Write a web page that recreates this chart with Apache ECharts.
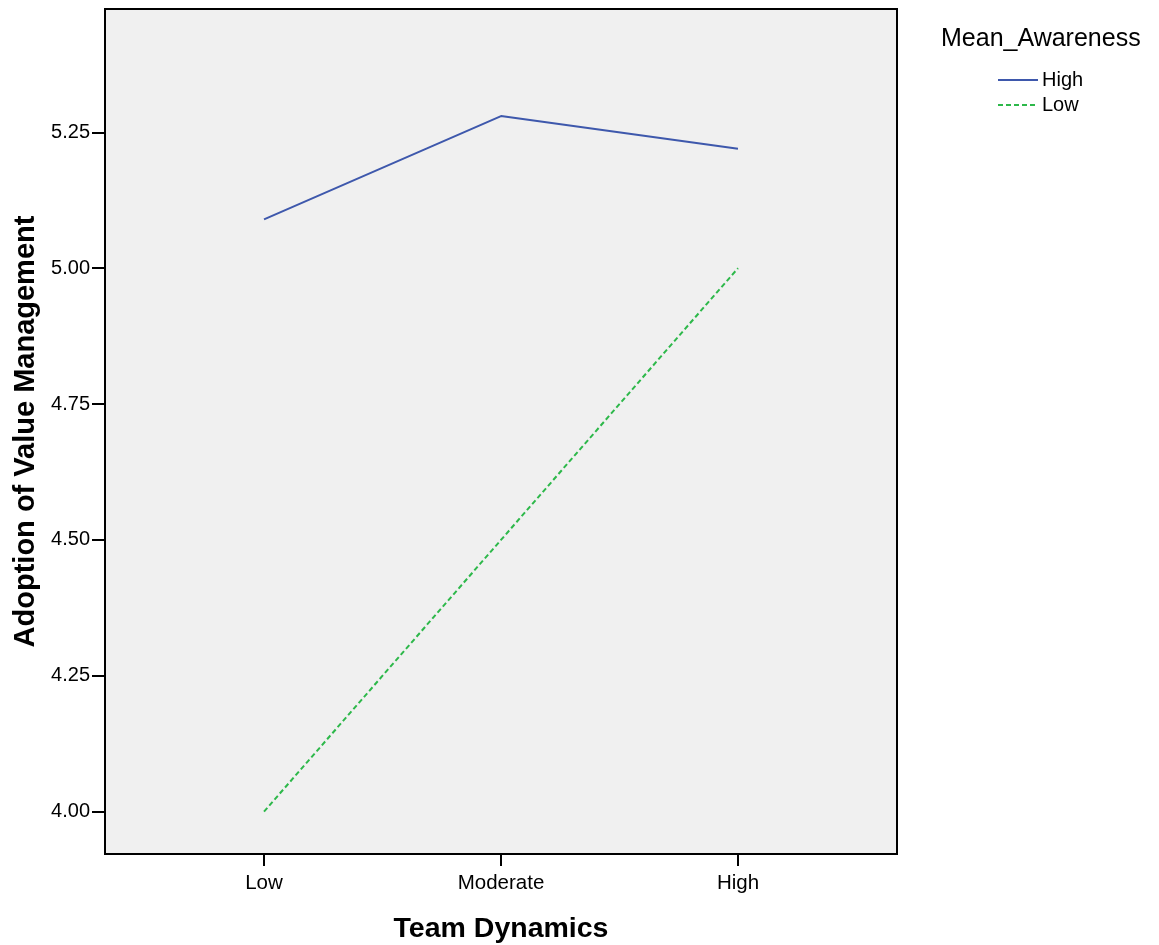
<!DOCTYPE html>
<html><head><meta charset="utf-8">
<script src="https://cdn.jsdelivr.net/npm/echarts@6/dist/echarts.min.js"></script>
<style>html,body{margin:0;padding:0;background:#fff}#c{width:1159px;height:945px}</style>
</head><body><div id="c"></div>
<script>
const categories = ['Low', 'Moderate', 'High'];
const seriesNames = ['High', 'Low'];
const highValues = [5.09, 5.28, 5.22];
const lowValues = [4.00, 4.50, 5.00];
const yTicks = [4.00, 4.25, 4.50, 4.75, 5.00, 5.25];
const xTicks = [0, 1, 2];

const chart = echarts.init(document.getElementById('c'));
const font = 'Liberation Sans, Arial, sans-serif';
function pts(vals){ return vals.map((v,i)=>[i,v]); }
chart.setOption({
  animation: false,
  title: {
    text: 'Mean_Awareness', left: 936, top: 22,
    textStyle: {fontFamily: font, fontSize: 25, fontWeight: 'normal', color: '#000'}
  },
  legend: {
    orient: 'vertical', left: 992, top: 65, itemWidth: 40, itemHeight: 12, itemGap: 5,
    textStyle: {fontFamily: font, fontSize: 20, color: '#000', padding: [0,0,0,-1]},
    itemStyle: {opacity: 0},
    data: seriesNames
  },
  grid: {
    left: 105, top: 9, right: 262, bottom: 91,
    outerBoundsMode: 'none', containLabel: false,
    show: true, backgroundColor: '#f0f0f0', borderColor: '#000', borderWidth: 2
  },
  xAxis: {
    type: 'value', min: -0.671, max: 2.671,
    name: 'Team Dynamics', nameLocation: 'middle', nameGap: 61,
    nameTextStyle: {fontFamily: font, fontSize: 28.5, fontWeight: 'bold', color: '#000'},
    axisLine: {show: false, onZero: false},
    splitLine: {show: false},
    axisTick: {show: true, customValues: xTicks, length: 12, lineStyle: {color: '#000', width: 2}},
    axisLabel: {customValues: xTicks, formatter: v => categories[Math.round(v)], fontFamily: font, fontSize: 20.5, color: '#000', margin: 19}
  },
  yAxis: {
    type: 'value', min: 3.922, max: 5.477,
    name: 'Adoption of Value Management', nameLocation: 'middle', nameGap: 60, nameRotate: 90,
    nameTextStyle: {fontFamily: font, fontSize: 29, fontWeight: 'bold', color: '#000'},
    axisLine: {show: false, onZero: false},
    splitLine: {show: false},
    axisTick: {show: true, customValues: yTicks, length: 13, lineStyle: {color: '#000', width: 2}},
    axisLabel: {customValues: yTicks, formatter: v => v.toFixed(2), fontFamily: font, fontSize: 20, color: '#000', margin: 15}
  },
  series: [
    {name: seriesNames[0], type: 'line', data: pts(highValues), symbol: 'none',
     lineStyle: {color: '#3e58ac', width: 2}, itemStyle: {color: '#3e58ac'}},
    {name: seriesNames[1], type: 'line', data: pts(lowValues), symbol: 'none',
     lineStyle: {color: '#2db84a', width: 2, type: [5, 3]}, itemStyle: {color: '#2db84a'}}
  ]
});
</script></body></html>
